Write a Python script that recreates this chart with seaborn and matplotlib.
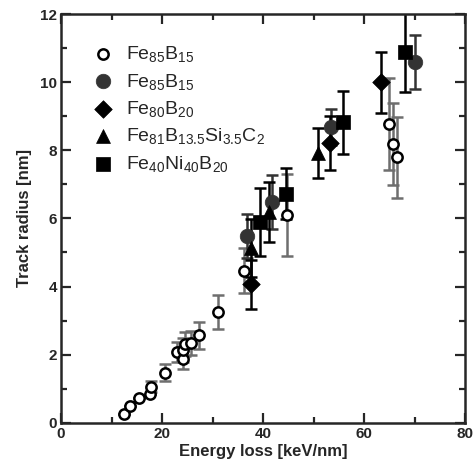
import numpy as np
import matplotlib
matplotlib.use('Agg')
import matplotlib.pyplot as plt
import seaborn as sns
from matplotlib.ticker import MultipleLocator

# Fe85B15 (open)
open_x = [12.5, 13.7, 15.5, 17.6, 17.8, 20.6, 22.9, 24.2, 24.2, 24.5, 25.7, 27.3, 31.1, 36.3, 44.8, 65.0, 65.7, 66.6]
open_y = [0.26, 0.49, 0.72, 0.84, 1.06, 1.47, 2.07, 1.87, 2.14, 2.31, 2.35, 2.57, 3.25, 4.47, 6.10, 8.78, 8.18, 7.79]
open_err = [0, 0, 0, 0, 0.15, 0.24, 0.30, 0.30, 0.35, 0.35, 0.35, 0.40, 0.50, 0.65, 1.20, 1.35, 1.20, 1.20]

# Fe85B15 (filled)
fill_x = [36.8, 41.8, 53.4, 70.1]
fill_y = [5.48, 6.49, 8.69, 10.6]
fill_err = [0.65, 0.80, 0.52, 0.80]

# Fe80B20
dia_x = [37.6, 53.3, 63.3]
dia_y = [4.07, 8.22, 10.0]
dia_err = [0.72, 0.80, 0.90]

# Fe81B13.5Si3.5C2
tri_x = [37.6, 41.1, 50.8]
tri_y = [5.12, 6.20, 7.93]
tri_err = [0.85, 0.88, 0.73]

# Fe40Ni40B20
sq_x = [39.4, 44.6, 55.8, 68.2]
sq_y = [5.90, 6.73, 8.82, 10.9]
sq_err = [1.00, 0.75, 0.93, 1.20]

labels = [r'Fe$_{85}$B$_{15}$', r'Fe$_{85}$B$_{15}$', r'Fe$_{80}$B$_{20}$',
          r'Fe$_{81}$B$_{13.5}$Si$_{3.5}$C$_2$', r'Fe$_{40}$Ni$_{40}$B$_{20}$']

sns.set_style('ticks')
plt.rcParams['font.family'] = ['Liberation Sans', 'DejaVu Sans']
plt.rcParams['mathtext.default'] = 'regular'

fig = plt.figure(figsize=(4.77, 4.72), dpi=100)
ax = fig.add_axes([0.128, 0.1045, 0.847, 0.8655])

series = [
    (open_x, open_y, open_err, 'o', 'white', 'black', '#6e6e6e', 55, 1.8),
    (fill_x, fill_y, fill_err, 'o', '#333333', '#333333', '#333333', 110, 0.5),
    (dia_x, dia_y, dia_err, 'D', 'black', 'black', 'black', 80, 0.5),
    (tri_x, tri_y, tri_err, '^', 'black', 'black', 'black', 100, 0.5),
    (sq_x, sq_y, sq_err, 's', 'black', 'black', 'black', 90, 0.5),
]

# error bars first, then markers on top
for (x, y, e, m, fc, ec, bc, s, lw) in series:
    ax.errorbar(x, y, yerr=e, fmt='none', ecolor=bc, elinewidth=1.8,
                capsize=4, capthick=1.8, zorder=2)

for (x, y, e, m, fc, ec, bc, s, lw), lab in zip(series, labels):
    sns.scatterplot(x=x, y=y, marker=m, s=s, color=fc, edgecolor=ec,
                    linewidth=lw, ax=ax, label=lab, zorder=3)

ax.set_xlim(0, 80)
ax.set_ylim(0, 12)
ax.xaxis.set_major_locator(MultipleLocator(20))
ax.xaxis.set_minor_locator(MultipleLocator(10))
ax.yaxis.set_major_locator(MultipleLocator(2))
ax.yaxis.set_minor_locator(MultipleLocator(1))
ax.tick_params(which='both', direction='in', top=True, right=True, width=1.6)
ax.tick_params(which='major', length=7, labelsize=11, pad=3)
ax.tick_params(which='minor', length=4)
for lab in ax.get_xticklabels() + ax.get_yticklabels():
    lab.set_fontweight('bold')
for sp in ax.spines.values():
    sp.set_linewidth(1.8)

ax.set_xlabel('Energy loss [keV/nm]', fontsize=12, fontweight='bold', labelpad=2)
ax.set_ylabel('Track radius [nm]', fontsize=12, fontweight='bold', labelpad=6)

leg = ax.legend(loc='upper left', bbox_to_anchor=(0.045, 0.955), frameon=False,
                fontsize=14, handletextpad=0.6, labelspacing=0.38,
                borderaxespad=0.2, handlelength=1.2)

fig.savefig('out.png', dpi=100)
